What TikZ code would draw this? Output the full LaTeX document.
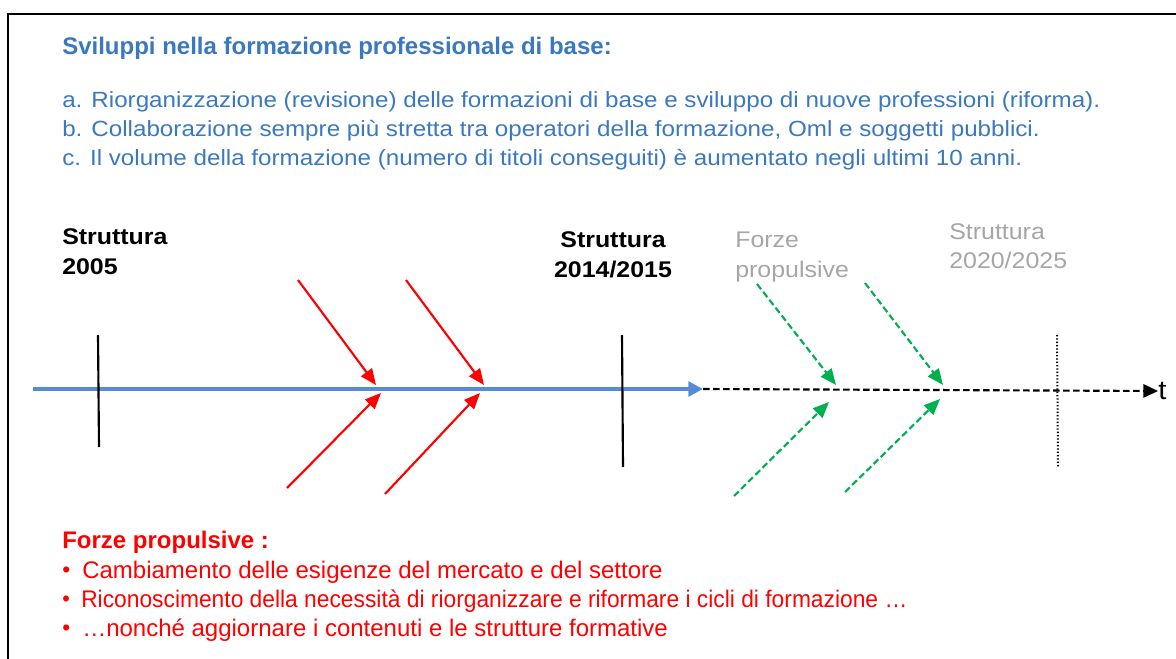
\documentclass[tikz,border=0pt]{standalone}
\usepackage{fontspec}
\setmainfont{Liberation Sans}
\newfontfamily\wideSans[FakeStretch=1.1]{Liberation Sans}
\usetikzlibrary{arrows.meta}
\definecolor{titleBlue}{RGB}{58,120,192}
\definecolor{lineBlue}{RGB}{85,140,212}
\definecolor{forceGreen}{RGB}{0,176,80}
\definecolor{laterGray}{RGB}{166,166,166}
\newcommand{\forceDot}{\makebox[15pt][l]{\raisebox{0.05ex}{\fontsize{17}{17}\selectfont\textbullet}}}
\tikzstyle{heading} = [anchor=base west, inner sep=0pt, font=\fontsize{18}{22}\selectfont\bfseries, text=titleBlue]
\tikzstyle{point} = [anchor=base west, inner sep=0pt, font=\wideSans\fontsize{16.5}{22}\selectfont, text=titleBlue]
\tikzstyle{forceHead} = [anchor=base west, inner sep=0pt, font=\fontsize{18}{22}\selectfont\bfseries, text=red]
\tikzstyle{forceItem} = [anchor=base west, inner sep=0pt, font=\fontsize{18}{22}\selectfont, text=red]
\tikzstyle{stage} = [anchor=north west, inner sep=0pt, align=left, font=\wideSans\fontsize{17}{22.5}\selectfont\bfseries]
\tikzstyle{laterStage} = [anchor=north west, inner sep=0pt, align=left, font=\wideSans\fontsize{17}{22}\selectfont, text=laterGray]
\tikzstyle{tick} = [line width=1.6pt]
\tikzstyle{redArrow} = [line width=1.6pt, red, -{Triangle[length=12pt,width=10pt]}]
\tikzstyle{greenArrow} = [line width=1.6pt, forceGreen, dash pattern=on 5pt off 2.5pt, -{Triangle[length=12pt,width=10pt]}]

\begin{document}
\begin{tikzpicture}[x=0.75pt, y=-0.75pt]
	\useasboundingbox (0,0) rectangle (1176,659);
	\draw [line width=2.2pt] (8,659) -- (8,14) -- (1176,14);
	
	\node (title) [heading] at (62,55) {Sviluppi nella formazione professionale di base:};
	\node (pointA) [point] at (62,108) {a. Riorganizzazione (revisione) delle formazioni di base e sviluppo di nuove professioni (riforma).};
	\node (pointB) [point] at (62,137) {b. Collaborazione sempre più stretta tra operatori della formazione, Oml e soggetti pubblici.};
	\node (pointC) [point] at (62,166) {c. Il volume della formazione (numero di titoli conseguiti) è aumentato negli ultimi 10 anni.};
	
	\node (stage2005) [stage] at (62,228) {Struttura\\2005};
	\node (stage2014) [stage, anchor=north, align=center] at (613,231) {Struttura\\2014/2015};
	\node (forcesLater) [laterStage] at (735,232) {Forze\\propulsive};
	\node (stage2020) [laterStage] at (949,223) {Struttura\\2020/2025};
	
	% timeline
	\coordinate (origin) at (33,389);
	\coordinate (today) at (703,389);
	\node (time) [anchor=west, inner sep=0pt, font=\wideSans\fontsize{20}{22}\selectfont] at (1158,391) {t};
	\draw [line width=3pt, lineBlue, -{Triangle[length=11pt,width=11pt]}] (origin) -- (today);
	\draw [line width=1.6pt, dash pattern=on 5pt off 2.5pt, -{Triangle[length=11pt,width=10pt]}] (today) -- (time.west);
	
	\draw [tick] (98,335) -- (99,447);
	\draw [tick] (622,335) -- (623,467);
	\draw [line width=1.5pt, dash pattern=on 1pt off 1.5pt] (1057,335) -- (1058,467);
	
	% driving forces so far
	\coordinate (redTopA) at (298,280);
	\coordinate (redHitA) at (376,385);
	\coordinate (redLowA) at (287,488);
	\coordinate (redUpA) at (381,393);
	\coordinate (redTopB) at (406,280);
	\coordinate (redHitB) at (484,385);
	\coordinate (redLowB) at (385,494);
	\coordinate (redUpB) at (480,393);
	\draw [redArrow] (redTopA) -- (redHitA);
	\draw [redArrow] (redLowA) -- (redUpA);
	\draw [redArrow] (redTopB) -- (redHitB);
	\draw [redArrow] (redLowB) -- (redUpB);
	
	% driving forces ahead
	\coordinate (greenTopA) at (757,284);
	\coordinate (greenHitA) at (836,385);
	\coordinate (greenLowA) at (734,496);
	\coordinate (greenUpA) at (829,402);
	\coordinate (greenTopB) at (865,283);
	\coordinate (greenHitB) at (943,385);
	\coordinate (greenLowB) at (845,492);
	\coordinate (greenUpB) at (940,399);
	\draw [greenArrow] (greenTopA) -- (greenHitA);
	\draw [greenArrow] (greenLowA) -- (greenUpA);
	\draw [greenArrow] (greenTopB) -- (greenHitB);
	\draw [greenArrow] (greenLowB) -- (greenUpB);
	
	\node (forces) [forceHead] at (62,548) {Forze propulsive :};
	\node (forceA) [forceItem] at (62,578) {\forceDot Cambiamento delle esigenze del mercato e del settore};
	\node (forceB) [forceItem, transform shape, xscale=0.95] at (62,607) {\forceDot Riconoscimento della necessità di riorganizzare e riformare i cicli di formazione …};
	\node (forceC) [forceItem] at (62,636) {\forceDot …nonché aggiornare i contenuti e le strutture formative};
\end{tikzpicture}
\end{document}
